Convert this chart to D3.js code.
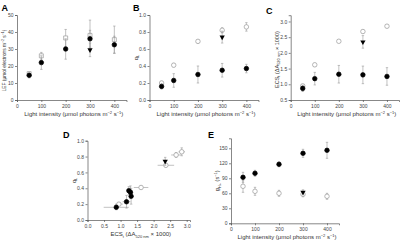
<!DOCTYPE html>
<html>
<head>
<meta charset="utf-8">
<script src="https://cdn.jsdelivr.net/npm/d3@7"></script>
<style>
body { margin:0; background:#fff; }
svg { font-family: "Liberation Sans", Arial, sans-serif; }
.axis path, .axis line { stroke:#555; stroke-width:0.7; }
.axis text { font-size:5px; fill:#444; }
</style>
</head>
<body>
<div id="chart"></div>
<script>
// light intensity
var light = [50, 100, 200, 300, 400];

// A: LEF
var lefFilled = [14.5, 22, 30, 36, 32.5];
var lefFilledErr = [1.5, 4, 6, 5, 5];
var lefOpen = [15.5, 26, 36.5, 38, 35.5];
var lefOpenErr = [1, 2, 5, 9, 8];
var lefTri = [29.5], lefTriErr = [4];

// B: qL
var qlFilled = [0.16, 0.23, 0.30, 0.35, 0.37];
var qlFilledErr = [0.03, 0.08, 0.1, 0.08, 0.05];
var qlOpen = [0.20, 0.41, 0.69, 0.82, 0.86];
var qlOpenErr = [0.02, 0.02, 0.02, 0.03, 0.05];
var qlTri = [0.74], qlTriErr = [0.07];

// C: ECSt
var ecsFilled = [0.87, 1.18, 1.32, 1.30, 1.25];
var ecsFilledErr = [0.1, 0.2, 0.28, 0.28, 0.28];
var ecsOpen = [0.95, 1.62, 2.37, 2.68, 2.85];
var ecsOpenErr = [0.04, 0.05, 0.04, 0.05, 0.05];
var ecsTri = [2.35], ecsTriErr = [0.2];

// D: horizontal errors (ECSt)
var dOpenXErr = [0.12, 0.22, 0.25, 0.15, 0.1];
var dFilledXErr = [0.38, 0.12, 0.05, 0.05, 0.05];

// E: gH+
var ghFilled = [92, 100, 118, 140, 146];
var ghFilledErr = [10, 6, 5, 8, 16];
var ghOpen = [74, 64, 60, 58, 54];
var ghOpenErr = [12, 8, 6, 5, 6];
var ghTri = [62], ghTriErr = [5];

var lightTicks = [0, 100, 200, 300, 400];
var grey = "#999";

var svg = d3.select("#chart").append("svg")
  .attr("width", 400).attr("height", 240);

function panel(o) {
  var x = d3.scaleLinear().domain(o.xd).range(o.xr);
  var y = d3.scaleLinear().domain(o.yd).range(o.yr);
  var g = svg.append("g");

  g.append("g").attr("class", "axis")
    .attr("transform", "translate(0," + o.yr[0] + ")")
    .call(d3.axisBottom(x).tickValues(o.xt).tickFormat(o.xf).tickSize(2).tickPadding(2));
  g.append("g").attr("class", "axis")
    .attr("transform", "translate(" + o.xr[0] + ",0)")
    .call(d3.axisLeft(y).tickValues(o.yt).tickFormat(o.yf).tickSize(2).tickPadding(1.5));

  g.append("text").attr("x", o.lx).attr("y", o.ly)
    .style("font-size", "9px").style("font-weight", "bold").text(o.letter);

  // x label
  g.append("text").attr("x", (o.xr[0] + o.xr[1]) / 2 + 2).attr("y", o.yr[0] + 16)
    .attr("text-anchor", "middle").style("font-size", "6px").attr("fill", "#333")
    .html(o.xlab);
  // y label
  g.append("text")
    .attr("transform", "translate(" + (o.xr[0] - (o.yoff || 12)) + "," + ((o.yr[0] + o.yr[1]) / 2 + (o.ydy || 0)) + ") rotate(-90)")
    .attr("text-anchor", "middle").style("font-size", (o.yfs || 5.5) + "px").attr("fill", "#333")
    .html(o.ylab);

  o.series.forEach(function(s) {
    var pts = s.xs.map(function(v, i) {
      return { x: v, y: s.ys[i], ey: s.ey ? s.ey[i] : 0, ex: s.ex ? s.ex[i] : 0 };
    });
    // error bars
    var eb = g.append("g").attr("stroke", grey).attr("stroke-width", 0.6);
    pts.forEach(function(p) {
      if (p.ey) {
        eb.append("line").attr("x1", x(p.x)).attr("x2", x(p.x))
          .attr("y1", y(p.y - p.ey)).attr("y2", y(p.y + p.ey));
        [p.y - p.ey, p.y + p.ey].forEach(function(v) {
          eb.append("line").attr("x1", x(p.x) - 1.2).attr("x2", x(p.x) + 1.2)
            .attr("y1", y(v)).attr("y2", y(v));
        });
      }
      if (p.ex) {
        eb.append("line").attr("y1", y(p.y)).attr("y2", y(p.y))
          .attr("x1", x(p.x - p.ex)).attr("x2", x(p.x + p.ex));
      }
    });
    var sym = d3.symbol().type(s.shape).size(s.size || 14);
    g.append("g").selectAll("path").data(pts).join("path")
      .attr("d", sym)
      .attr("transform", function(d) {
        return "translate(" + x(d.x) + "," + y(d.y) + ")" + (s.rot ? " rotate(180)" : "");
      })
      .attr("fill", s.fill).attr("stroke", s.stroke).attr("stroke-width", s.sw || 0.7);
  });
}

var lightLab = "Light intensity (μmol photons m<tspan dy='-2' font-size='4'>−2</tspan><tspan dy='2'> s</tspan><tspan dy='-2' font-size='4'>−1</tspan><tspan dy='2'>)</tspan>";
var ecsLab = "ECS<tspan dy='1.5' font-size='4'>t</tspan><tspan dy='-1.5'> (ΔA</tspan><tspan dy='1.5' font-size='4'>520 nm</tspan><tspan dy='-1.5'> × 1000)</tspan>";
var f1 = d3.format(".1f");

function lightSeries(fy, fe, oy, oe, ty, te, openShape) {
  return [
    { xs: light, ys: oy, ey: oe, shape: openShape, fill: "#fff", stroke: grey, size: 16 },
    { xs: light, ys: fy, ey: fe, shape: d3.symbolCircle, fill: "#000", stroke: "#000", size: 16 },
    { xs: [300], ys: ty, ey: te, shape: d3.symbolTriangle, fill: "#000", stroke: "none", size: 12, rot: true }
  ];
}

panel({ letter: "A", lx: 1.5, ly: 10.5, xd: [0, 450], xr: [17, 126.5], yd: [0, 50], yr: [100, 15],
  xt: lightTicks, yt: [0, 10, 20, 30, 40, 50], yf: d3.format("d"),
  xlab: lightLab, yfs: 4.8, yoff: 11, ydy: 3,
  ylab: "LEF (μmol electrons m<tspan dy='-2' font-size='3.5'>−2</tspan><tspan dy='2'> s</tspan><tspan dy='-2' font-size='3.5'>−1</tspan><tspan dy='2'>)</tspan>",
  series: lightSeries(lefFilled, lefFilledErr, lefOpen, lefOpenErr, lefTri, lefTriErr, d3.symbolSquare) });

panel({ letter: "B", lx: 133, ly: 11, xd: [0, 450], xr: [149.5, 258.5], yd: [0, 1.0], yr: [100, 15],
  xt: lightTicks, yt: [0, 0.2, 0.4, 0.6, 0.8, 1.0], yf: f1,
  xlab: lightLab,
  ylab: "q<tspan dy='1.5' font-size='4'>L</tspan>",
  series: lightSeries(qlFilled, qlFilledErr, qlOpen, qlOpenErr, qlTri, qlTriErr, d3.symbolCircle) });

panel({ letter: "C", lx: 266, ly: 14, xd: [0, 450], xr: [290.7, 399], yd: [0.5, 3.2], yr: [100, 15.2],
  xt: lightTicks, yt: [0.5, 1.0, 1.5, 2.0, 2.5, 3.0], yf: f1,
  xlab: lightLab, ylab: ecsLab, ydy: 2,
  series: lightSeries(ecsFilled, ecsFilledErr, ecsOpen, ecsOpenErr, ecsTri, ecsTriErr, d3.symbolCircle) });

panel({ letter: "D", lx: 63, ly: 138, xd: [0, 3.1], xr: [87.5, 190], yd: [0, 1.0], yr: [220, 140.7],
  xt: [0, 0.5, 1.0, 1.5, 2.0, 2.5, 3.0], xf: f1, yt: [0, 0.2, 0.4, 0.6, 0.8, 1.0], yf: f1,
  xlab: ecsLab, ylab: "q<tspan dy='1.5' font-size='4'>L</tspan>",
  series: [
    { xs: ecsOpen, ys: qlOpen, ey: qlOpenErr, ex: dOpenXErr, shape: d3.symbolCircle, fill: "#fff", stroke: grey, size: 16 },
    { xs: ecsFilled, ys: qlFilled, ey: qlFilledErr, ex: dFilledXErr, shape: d3.symbolCircle, fill: "#000", stroke: "#000", size: 16 },
    { xs: ecsTri, ys: qlTri, ey: [0.05], shape: d3.symbolTriangle, fill: "#000", stroke: "none", size: 12, rot: true }
  ] });

panel({ letter: "E", lx: 208, ly: 138, xd: [0, 450], xr: [231, 339], yd: [0, 170], yr: [223.3, 138.3],
  xt: lightTicks, yt: [0, 30, 60, 90, 120, 150], yf: d3.format("d"),
  xlab: lightLab,
  ylab: "g<tspan dy='1.5' font-size='4'>H+</tspan><tspan dy='-1.5'> (s</tspan><tspan dy='-2' font-size='4'>−1</tspan><tspan dy='2'>)</tspan>",
  series: lightSeries(ghFilled, ghFilledErr, ghOpen, ghOpenErr, ghTri, ghTriErr, d3.symbolCircle) });
</script>
</body>
</html>
